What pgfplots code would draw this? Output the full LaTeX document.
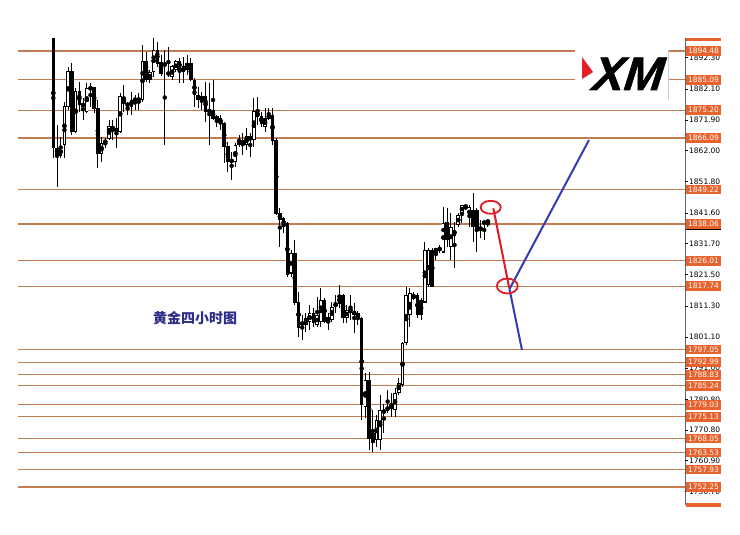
\documentclass[border=0pt]{standalone}
\usepackage{pgfplots}
\pgfplotsset{compat=1.18}
\usepackage{pgfplotstable}
\usepackage{fontspec}
\setmainfont{DejaVu Sans}
\newfontfamily\cjk{Noto Sans CJK SC}
\newfontfamily\logofont{Liberation Sans}[BoldItalicFeatures={FakeBold=1.2}]
\definecolor{lvl}{RGB}{192,126,82}
\definecolor{lbl}{RGB}{232,98,45}
\definecolor{anred}{RGB}{220,30,40}
\definecolor{anblue}{RGB}{50,60,180}
\definecolor{cntext}{RGB}{45,45,140}
\definecolor{xmred}{RGB}{230,30,40}

\pgfplotstableread{
k O H L C
1 1898.72 1898.72 1859.57 1862.83
2 1862.74 1870.34 1850.21 1860.55
3 1860.55 1866.52 1859.47 1862.74
4 1863.81 1877.94 1859.47 1876.31
5 1876.31 1889.36 1875.23 1887.73
6 1887.73 1890.47 1867.08 1868.15
7 1868.15 1882.31 1867.63 1881.20
8 1881.20 1884.47 1874.68 1876.86
9 1876.54 1879.05 1871.97 1877.19
10 1874.68 1883.94 1874.16 1882.31
11 1881.99 1883.94 1876.31 1882.64
12 1882.64 1882.83 1874.16 1875.79
13 1875.79 1878.49 1856.21 1861.10
14 1861.10 1866.52 1858.36 1864.37
15 1864.37 1866.00 1862.74 1865.44
16 1866.00 1871.97 1865.44 1869.78
17 1868.71 1871.97 1865.44 1870.01
18 1869.26 1872.52 1862.74 1868.15
19 1868.15 1880.68 1867.63 1879.57
20 1879.05 1883.39 1874.68 1877.42
21 1877.42 1877.94 1873.60 1876.54
22 1876.31 1881.20 1873.60 1878.49
23 1878.49 1880.13 1875.23 1878.72
24 1878.72 1880.68 1875.23 1878.59
25 1878.49 1896.44 1877.94 1890.99
26 1890.99 1894.25 1884.47 1885.02
27 1885.02 1888.28 1883.94 1887.40
28 1887.73 1898.62 1886.10 1894.81
29 1894.81 1897.52 1889.36 1890.47
30 1890.89 1893.18 1886.32 1887.30
31 1890.57 1894.81 1863.81 1889.59
32 1887.63 1895.79 1886.00 1886.65
33 1886.10 1889.91 1885.02 1889.36
34 1888.28 1891.54 1887.73 1890.99
35 1890.99 1892.10 1883.94 1888.84
36 1887.73 1892.62 1883.94 1889.36
37 1888.28 1893.18 1886.65 1890.47
38 1890.47 1892.10 1884.80 1885.02
39 1885.02 1885.57 1876.31 1880.13
40 1880.13 1882.83 1875.79 1878.49
41 1877.94 1881.20 1875.23 1879.57
42 1879.57 1884.47 1871.41 1874.68
43 1875.23 1883.94 1863.81 1874.68
44 1875.23 1885.02 1871.97 1872.52
45 1873.05 1873.60 1869.78 1871.97
46 1872.52 1873.60 1868.71 1870.89
47 1870.89 1871.20 1857.84 1863.26
48 1863.26 1864.89 1855.10 1858.36
49 1858.36 1861.63 1852.39 1858.92
50 1858.36 1864.37 1856.73 1863.81
51 1863.81 1867.08 1863.26 1865.44
52 1865.44 1867.63 1860.55 1863.81
53 1863.81 1869.26 1862.18 1866.52
54 1865.44 1867.63 1860.00 1866.52
55 1865.44 1879.05 1863.26 1874.68
56 1874.68 1879.57 1870.34 1873.05
57 1873.05 1874.68 1869.78 1870.89
58 1869.78 1875.79 1868.15 1872.52
59 1872.52 1875.79 1871.97 1873.60
60 1873.60 1875.79 1863.81 1865.44
61 1865.44 1866.00 1840.97 1841.53
62 1841.63 1843.26 1830.53 1839.34
63 1840.00 1840.32 1835.10 1837.06
64 1838.36 1838.69 1820.75 1821.40
65 1822.05 1829.56 1820.75 1828.58
66 1828.58 1832.82 1811.61 1812.26
67 1812.59 1815.85 1801.17 1804.43
68 1805.09 1808.35 1800.19 1806.06
69 1805.09 1809.00 1802.80 1807.37
70 1806.06 1811.61 1803.45 1809.00
71 1809.00 1810.63 1804.43 1805.74
72 1805.09 1814.22 1804.43 1808.35
73 1806.06 1817.16 1804.43 1813.24
74 1813.24 1813.90 1805.74 1806.06
75 1807.70 1809.00 1803.45 1806.06
76 1806.72 1812.59 1806.06 1810.96
77 1810.96 1814.87 1809.00 1812.26
78 1812.26 1818.14 1810.63 1814.22
79 1814.87 1815.20 1805.74 1807.37
80 1807.37 1811.61 1805.74 1809.98
81 1810.96 1814.87 1806.72 1809.00
82 1809.33 1812.26 1802.48 1808.67
83 1809.00 1809.65 1805.09 1807.37
84 1807.37 1807.70 1774.09 1778.99
85 1778.33 1789.43 1774.74 1787.14
86 1787.14 1789.75 1764.30 1768.20
87 1769.85 1777.35 1763.65 1766.59
88 1767.57 1775.70 1765.30 1774.09
89 1767.57 1782.25 1764.30 1777.35
90 1776.38 1779.31 1769.85 1777.35
91 1777.35 1783.88 1776.38 1778.33
92 1777.70 1782.90 1775.07 1779.00
93 1777.35 1784.53 1775.07 1782.90
94 1782.90 1787.79 1782.25 1786.16
95 1785.51 1799.54 1784.86 1799.21
96 1799.21 1817.48 1798.56 1814.87
97 1808.35 1817.16 1804.43 1815.53
98 1813.90 1815.85 1813.24 1814.55
99 1814.87 1815.53 1807.37 1808.35
100 1813.24 1813.90 1806.72 1808.35
101 1812.59 1832.17 1812.26 1829.56
102 1818.14 1830.21 1817.48 1829.56
103 1829.56 1830.21 1817.48 1817.48
104 1828.90 1830.21 1826.29 1830.21
105 1829.56 1831.19 1828.58 1830.21
106 1828.90 1843.58 1828.58 1838.36
107 1838.69 1843.26 1830.53 1832.82
108 1830.53 1841.63 1826.29 1837.06
109 1836.08 1838.69 1823.68 1834.45
110 1837.71 1841.63 1837.06 1840.97
111 1841.63 1844.24 1838.36 1844.24
112 1843.26 1844.24 1842.61 1844.24
113 1840.32 1844.24 1837.06 1843.58
114 1842.61 1848.15 1832.17 1837.06
115 1842.61 1843.26 1828.90 1836.08
116 1836.08 1839.34 1833.47 1837.06
117 1838.69 1839.34 1832.82 1838.36
118 1838.69 1839.34 1837.06 1839.02
}\candles

\begin{document}
\begin{tikzpicture}
\begin{axis}[
  at={(0,0)}, anchor=south west,
  scale only axis, width=740bp, height=534bp,
  xmin=0, xmax=740, ymin=1736.90, ymax=1911.12,
  axis lines=none, ticks=none, clip=false,
]
\fill[white] (axis cs:0,1736.90) rectangle (axis cs:740,1911.12);

% bid line band
\addplot[black!9, line width=2.6bp, forget plot] coordinates {(18,1838.06) (685,1838.06)};
% horizontal levels
\pgfplotsinvokeforeach{1894.48,1885.09,1875.20,1866.09,1849.22,1838.06,1826.01,1817.74,1797.05,1792.99,1788.83,1785.24,1779.03,1775.13,1768.05,1763.53,1757.93,1752.25}{
  \addplot[lvl, line width=1.15bp, forget plot] coordinates {(18,#1) (685,#1)};
}

% candles: wicks
\addplot[only marks, mark=none, forget plot,
  error bars/.cd, y dir=both, y explicit, error mark=none,
  error bar style={draw=black, line width=1bp}]
  table[x expr={53.3+3.715*(\thisrow{k}-1)}, y expr={(\thisrow{H}+\thisrow{L})/2}, y error expr={(\thisrow{H}-\thisrow{L})/2}] {\candles};
% bodies outline
\addplot[only marks, mark=none, forget plot,
  error bars/.cd, y dir=both, y explicit, error mark=none,
  error bar style={draw=black, line width=3.5bp, line cap=butt}]
  table[x expr={53.3+3.715*(\thisrow{k}-1)}, y expr={(\thisrow{O}+\thisrow{C})/2}, y error expr={abs(\thisrow{O}-\thisrow{C})/2+0.15}] {\candles};
% bullish interiors
\addplot[only marks, mark=none, forget plot,
  error bars/.cd, y dir=both, y explicit, error mark=none,
  error bar style={draw=white, line width=1.8bp, line cap=butt}]
  table[x expr={53.3+3.715*(\thisrow{k}-1)}, y expr={(\thisrow{O}+\thisrow{C})/2}, y error expr={max((\thisrow{C}-\thisrow{O})/2-0.2,0)}] {\candles};

% logo box
\fill[white] (axis cs:575,1896.44) rectangle (axis cs:668,1879.47);
\draw[black!20, line width=0.8bp] (axis cs:668,1894.81) -- (axis cs:668,1878.49);
\fill[xmred] (axis cs:582,1892.52) -- (axis cs:593,1887.63) -- (axis cs:582,1885.34) -- cycle;
\node[anchor=base, inner sep=0pt, xslant=0.12, font=\logofont\bfseries\itshape\fontsize{47bp}{50bp}\selectfont] at (axis cs:627,1881.76) {XM};

% annotations
\addplot[anblue, line width=2bp, forget plot] coordinates {(522,1796.93) (509.5,1816.80) (589,1865.44)};
\addplot[anred, line width=2bp, forget plot] coordinates {(493.3,1843.16) (509.3,1817.06)};
\addplot[anred, only marks, mark=o, mark size=6.5, mark options={xscale=1.55, line width=1.8bp}, forget plot] coordinates {(490.7,1843.49)};
\addplot[anred, only marks, mark=o, mark size=7.5, mark options={xscale=1.4, line width=1.8bp}, forget plot] coordinates {(507.3,1817.81)};

% Chinese caption
\node[font=\cjk\bfseries\fontsize{14bp}{16bp}\selectfont, text=cntext] at (axis cs:195,1807.37) {黄金四小时图};

% right price scale
\draw[black!60, line width=1bp] (axis cs:685,1898.72) -- (axis cs:685,1746.36);
\pgfplotsinvokeforeach{1892.30,1882.10,1871.90,1862.00,1851.80,1841.60,1831.70,1821.50,1811.30,1801.10,1791.00,1780.80,1770.80,1760.90,1750.70}{
  \draw[black, line width=0.8bp] (axis cs:685,#1) -- (axis cs:688,#1);
  \node[anchor=west, inner sep=0pt, font=\fontsize{7.5bp}{8bp}\selectfont] at (axis cs:689,#1) {#1};
}
\fill[black] (axis cs:686,1837.9) rectangle (axis cs:721,1836.0);
\fill[lbl] (axis cs:686,1898.72) rectangle (axis cs:721,1897.74);
\fill[lbl] (axis cs:686,1747.01) rectangle (axis cs:721,1745.71);
\pgfplotsinvokeforeach{1894.48,1885.09,1875.20,1866.09,1849.22,1838.06,1826.01,1817.74,1797.05,1792.99,1788.83,1785.24,1779.03,1775.13,1768.05,1763.53,1757.93,1752.25}{
  \node[fill=lbl, text=white, minimum width=35bp, minimum height=9.5bp, inner sep=0pt, font=\fontsize{7.5bp}{8bp}\selectfont] at (axis cs:703.5,#1) {#1};
}
\end{axis}
\end{tikzpicture}
\end{document}
